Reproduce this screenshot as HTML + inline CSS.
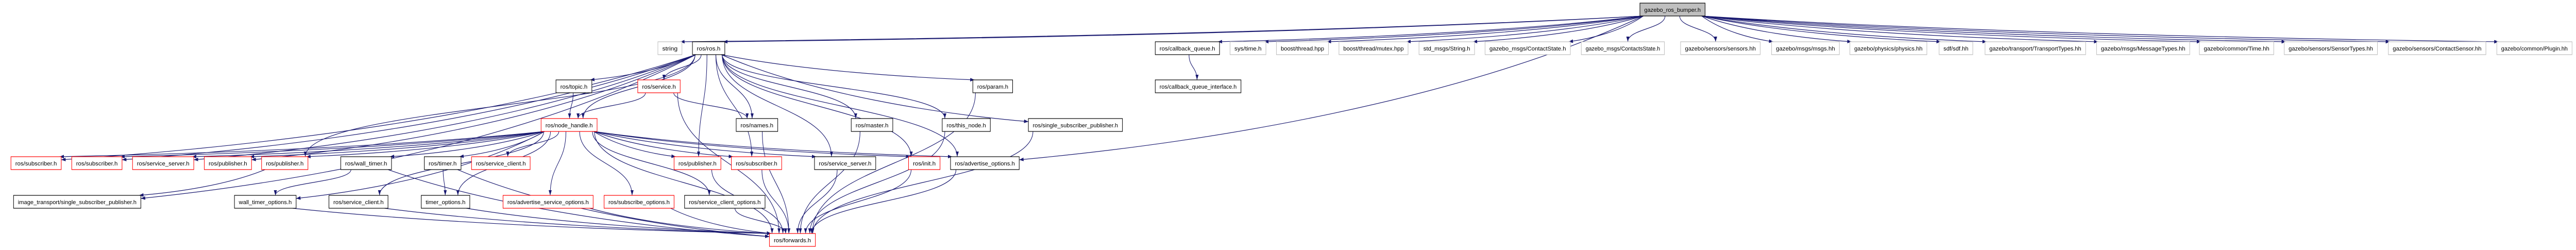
<!DOCTYPE html>
<html><head><meta charset="utf-8">
<style>
html,body{margin:0;padding:0;background:#fff;width:100%;height:485px;overflow:hidden;}
svg{display:block;width:100vw;height:485px;overflow:hidden;}
text{font-family:"Liberation Sans",sans-serif;font-size:11px;fill:#000;text-anchor:middle;}
rect{fill:#fff;stroke-width:1.2;}
.b{stroke:#000;}
.r{stroke:#ff0000;}
.g{stroke:#bfbfbf;}
.f{stroke:#000;fill:#bfbfbf;}
</style></head>
<body>
<svg id="s" viewBox="0 0 5889 485" preserveAspectRatio="none" xmlns="http://www.w3.org/2000/svg">
<defs><marker id="a" markerWidth="10" markerHeight="7" refX="10" refY="3.5" orient="auto" markerUnits="userSpaceOnUse"><path d="M0,0 L10,3.5 L0,7 z" fill="#191970"/></marker></defs>
<g id="edges"></g>
<g id="nodes">
<rect id="bumper" class="f" x="3749" y="6" width="149" height="25"/><text x="3823.5" y="23" textLength="129" lengthAdjust="spacingAndGlyphs">gazebo_ros_bumper.h</text>
<rect id="string" class="g" x="1504" y="81" width="55" height="25"/><text x="1531.5" y="98" textLength="35" lengthAdjust="spacingAndGlyphs">string</text>
<rect id="ros" class="b" x="1583" y="81" width="74" height="25"/><text x="1620" y="98" textLength="54" lengthAdjust="spacingAndGlyphs">ros/ros.h</text>
<rect id="cbq" class="b" x="2641" y="81" width="147" height="25"/><text x="2714.5" y="98" textLength="127" lengthAdjust="spacingAndGlyphs">ros/callback_queue.h</text>
<rect id="systime" class="g" x="2812" y="81" width="82" height="25"/><text x="2853" y="98" textLength="62" lengthAdjust="spacingAndGlyphs">sys/time.h</text>
<rect id="bthread" class="g" x="2918" y="81" width="119" height="25"/><text x="2977.5" y="98" textLength="99" lengthAdjust="spacingAndGlyphs">boost/thread.hpp</text>
<rect id="mutex" class="g" x="3061" y="81" width="158" height="25"/><text x="3140" y="98" textLength="138" lengthAdjust="spacingAndGlyphs">boost/thread/mutex.hpp</text>
<rect id="strmsg" class="g" x="3244" y="81" width="127" height="25"/><text x="3307.5" y="98" textLength="107" lengthAdjust="spacingAndGlyphs">std_msgs/String.h</text>
<rect id="cstate" class="g" x="3395" y="81" width="195" height="25"/><text x="3492.5" y="98" textLength="175" lengthAdjust="spacingAndGlyphs">gazebo_msgs/ContactState.h</text>
<rect id="cstates" class="g" x="3615" y="81" width="190" height="25"/><text x="3710" y="98" textLength="170" lengthAdjust="spacingAndGlyphs">gazebo_msgs/ContactsState.h</text>
<rect id="sensors" class="g" x="3842" y="81" width="182" height="25"/><text x="3933" y="98" textLength="162" lengthAdjust="spacingAndGlyphs">gazebo/sensors/sensors.hh</text>
<rect id="msgs" class="g" x="4050" y="81" width="155" height="25"/><text x="4127.5" y="98" textLength="135" lengthAdjust="spacingAndGlyphs">gazebo/msgs/msgs.hh</text>
<rect id="physics" class="g" x="4229" y="81" width="176" height="25"/><text x="4317" y="98" textLength="156" lengthAdjust="spacingAndGlyphs">gazebo/physics/physics.hh</text>
<rect id="sdf" class="g" x="4433" y="81" width="77" height="25"/><text x="4471.5" y="98" textLength="57" lengthAdjust="spacingAndGlyphs">sdf/sdf.hh</text>
<rect id="ttypes" class="g" x="4538" y="81" width="230" height="25"/><text x="4653" y="98" textLength="210" lengthAdjust="spacingAndGlyphs">gazebo/transport/TransportTypes.hh</text>
<rect id="mtypes" class="g" x="4793" y="81" width="213" height="25"/><text x="4899.5" y="98" textLength="193" lengthAdjust="spacingAndGlyphs">gazebo/msgs/MessageTypes.hh</text>
<rect id="time" class="g" x="5028" y="81" width="170" height="25"/><text x="5113" y="98" textLength="150" lengthAdjust="spacingAndGlyphs">gazebo/common/Time.hh</text>
<rect id="stypes" class="g" x="5222" y="81" width="213" height="25"/><text x="5328.5" y="98" textLength="193" lengthAdjust="spacingAndGlyphs">gazebo/sensors/SensorTypes.hh</text>
<rect id="csensor" class="g" x="5460" y="81" width="223" height="25"/><text x="5571.5" y="98" textLength="203" lengthAdjust="spacingAndGlyphs">gazebo/sensors/ContactSensor.hh</text>
<rect id="plugin" class="g" x="5708" y="81" width="172" height="25"/><text x="5794" y="98" textLength="152" lengthAdjust="spacingAndGlyphs">gazebo/common/Plugin.hh</text>

<rect id="service" class="r" x="1458" y="155" width="97" height="25"/><text x="1506.5" y="172" textLength="77" lengthAdjust="spacingAndGlyphs">ros/service.h</text>
<rect id="topic" class="b" x="1271" y="155" width="82" height="25"/><text x="1312" y="172" textLength="62" lengthAdjust="spacingAndGlyphs">ros/topic.h</text>
<rect id="param" class="b" x="2224" y="155" width="91" height="25"/><text x="2269.5" y="172" textLength="71" lengthAdjust="spacingAndGlyphs">ros/param.h</text>
<rect id="cbqi" class="b" x="2641" y="155" width="196" height="25"/><text x="2739" y="172" textLength="176" lengthAdjust="spacingAndGlyphs">ros/callback_queue_interface.h</text>

<rect id="nh" class="r" x="1237" y="230" width="128" height="25"/><text x="1301" y="247" textLength="108" lengthAdjust="spacingAndGlyphs">ros/node_handle.h</text>
<rect id="names" class="b" x="1683" y="230" width="95" height="25"/><text x="1730.5" y="247" textLength="75" lengthAdjust="spacingAndGlyphs">ros/names.h</text>
<rect id="master" class="b" x="1946" y="230" width="95" height="25"/><text x="1993.5" y="247" textLength="75" lengthAdjust="spacingAndGlyphs">ros/master.h</text>
<rect id="thisnode" class="b" x="2154" y="230" width="110" height="25"/><text x="2209" y="247" textLength="90" lengthAdjust="spacingAndGlyphs">ros/this_node.h</text>
<rect id="ssp" class="b" x="2351" y="230" width="215" height="25"/><text x="2458.5" y="247" textLength="195" lengthAdjust="spacingAndGlyphs">ros/single_subscriber_publisher.h</text>

<rect id="sub1" class="r" x="25" y="304" width="115" height="25"/><text x="82.5" y="321" textLength="95" lengthAdjust="spacingAndGlyphs">ros/subscriber.h</text>
<rect id="sub2" class="r" x="164" y="304" width="115" height="25"/><text x="221.5" y="321" textLength="95" lengthAdjust="spacingAndGlyphs">ros/subscriber.h</text>
<rect id="ss1" class="r" x="303" y="304" width="140" height="25"/><text x="373" y="321" textLength="120" lengthAdjust="spacingAndGlyphs">ros/service_server.h</text>
<rect id="pub1" class="r" x="467" y="304" width="108" height="25"/><text x="521" y="321" textLength="88" lengthAdjust="spacingAndGlyphs">ros/publisher.h</text>
<rect id="pub2" class="r" x="598" y="304" width="106" height="25"/><text x="651" y="321" textLength="86" lengthAdjust="spacingAndGlyphs">ros/publisher.h</text>
<rect id="wt" class="b" x="779" y="304" width="116" height="25"/><text x="837" y="321" textLength="96" lengthAdjust="spacingAndGlyphs">ros/wall_timer.h</text>
<rect id="timer" class="b" x="970" y="304" width="84" height="25"/><text x="1012" y="321" textLength="64" lengthAdjust="spacingAndGlyphs">ros/timer.h</text>
<rect id="sc1" class="r" x="1078" y="304" width="134" height="25"/><text x="1145" y="321" textLength="114" lengthAdjust="spacingAndGlyphs">ros/service_client.h</text>
<rect id="pub3" class="r" x="1541" y="304" width="107" height="25"/><text x="1594.5" y="321" textLength="87" lengthAdjust="spacingAndGlyphs">ros/publisher.h</text>
<rect id="sub3" class="r" x="1672" y="304" width="115" height="25"/><text x="1729.5" y="321" textLength="95" lengthAdjust="spacingAndGlyphs">ros/subscriber.h</text>
<rect id="ss2" class="b" x="1862" y="304" width="140" height="25"/><text x="1932" y="321" textLength="120" lengthAdjust="spacingAndGlyphs">ros/service_server.h</text>
<rect id="init" class="r" x="2077" y="304" width="72" height="25"/><text x="2113" y="321" textLength="52" lengthAdjust="spacingAndGlyphs">ros/init.h</text>
<rect id="adv" class="b" x="2173" y="304" width="157" height="25"/><text x="2251.5" y="321" textLength="137" lengthAdjust="spacingAndGlyphs">ros/advertise_options.h</text>

<rect id="it" class="b" x="31" y="379" width="291" height="25"/><text x="176.5" y="396" textLength="271" lengthAdjust="spacingAndGlyphs">image_transport/single_subscriber_publisher.h</text>
<rect id="wto" class="b" x="536" y="379" width="141" height="25"/><text x="606.5" y="396" textLength="121" lengthAdjust="spacingAndGlyphs">wall_timer_options.h</text>
<rect id="sc2" class="b" x="752" y="379" width="135" height="25"/><text x="819.5" y="396" textLength="115" lengthAdjust="spacingAndGlyphs">ros/service_client.h</text>
<rect id="to" class="b" x="963" y="379" width="111" height="25"/><text x="1018.5" y="396" textLength="91" lengthAdjust="spacingAndGlyphs">timer_options.h</text>
<rect id="aso" class="r" x="1150" y="379" width="206" height="25"/><text x="1253" y="396" textLength="186" lengthAdjust="spacingAndGlyphs">ros/advertise_service_options.h</text>
<rect id="so" class="r" x="1381" y="379" width="160" height="25"/><text x="1461" y="396" textLength="140" lengthAdjust="spacingAndGlyphs">ros/subscribe_options.h</text>
<rect id="sco" class="b" x="1565" y="379" width="184" height="25"/><text x="1657" y="396" textLength="164" lengthAdjust="spacingAndGlyphs">ros/service_client_options.h</text>

<rect id="fwd" class="r" x="1759" y="453" width="105" height="25"/><text x="1811.5" y="470" textLength="85" lengthAdjust="spacingAndGlyphs">ros/forwards.h</text>
</g>
</svg>
<script>
(function(){
var NS="http://www.w3.org/2000/svg";
function G(id){var r=document.getElementById(id);var x=+r.getAttribute("x"),y=+r.getAttribute("y"),w=+r.getAttribute("width"),h=+r.getAttribute("height");return{x1:x,x2:x+w,y1:y,y2:y+h,cx:x+w/2,cy:y+h/2,w:w};}
function cl(v,a,b){return Math.max(a,Math.min(b,v));}
var eg=document.getElementById("edges");
function E(s,t){
 var S=G(s),T=G(t);var dx=T.cx-S.cx,dy=T.y1-S.y2;var d;
 if(Math.abs(dx)>5*Math.max(dy,20)){
  var dir=dx<0?-1:1;
  var sx=dir<0?S.x1+8:S.x2-8, sy=S.y2;
  var ex=dir<0?T.x2-4:T.x1+4, ey=T.y1;
  if(T.y1-S.y2>60){ex=dir<0?T.x2:T.x1;ey=T.y1+6;}
  var c1x=sx+(ex-sx)*0.3,c1y=sy+(ey-sy)*0.6,c2x=sx+(ex-sx)*0.7,c2y=ey-(ey-sy)*0.12;
  d="M"+sx+","+sy+" C"+c1x+","+c1y+" "+c2x+","+c2y+" "+ex+","+ey;
 }else{
  var sx=S.cx+cl(dx*0.15,-(S.w/2-6),S.w/2-6), sy=S.y2;
  var ex=T.cx-cl(dx*0.1,-(T.w/2-6),T.w/2-6), ey=T.y1;
  d="M"+sx+","+sy+" C"+sx+","+(sy+dy*0.5)+" "+ex+","+(ey-dy*0.5)+" "+ex+","+ey;
 }
 var p=document.createElementNS(NS,"path");p.setAttribute("d",d);p.setAttribute("fill","none");p.setAttribute("stroke","#191970");p.setAttribute("stroke-width","1.2");p.setAttribute("marker-end","url(#a)");eg.appendChild(p);
}
var L=[
["bumper",["string","ros","cbq","systime","bthread","mutex","strmsg","cstate","cstates","sensors","msgs","physics","sdf","ttypes","mtypes","time","stypes","csensor","plugin","adv"]],
["ros",["service","topic","param","nh","names","master","pub3","sub3","ss2","init","thisnode","ssp","sub1","sub2","ss1","pub1","pub2","it","adv"]],
["service",["nh","names","fwd"]],
["topic",["nh"]],
["cbq",["cbqi"]],
["nh",["fwd","sub1","sub2","ss1","pub1","pub2","wt","timer","sc1","pub3","sub3","ss2","init","adv","sc2","to","aso","so","sco","wto"]],
["wt",["wto","fwd"]],["timer",["to","fwd"]],["pub2",["it"]],
["wto",["fwd"]],["sc2",["fwd"]],["to",["fwd"]],["aso",["fwd"]],["so",["fwd"]],["sco",["fwd"]],
["pub3",["fwd"]],["sub3",["fwd"]],["ss2",["fwd"]],["init",["fwd"]],["adv",["fwd"]],
["names",["fwd"]],["master",["fwd"]],["thisnode",["fwd"]],["param",["fwd"]],["ssp",["fwd"]]
];
L.forEach(function(e){e[1].forEach(function(t){E(e[0],t);});});
})();
</script>
</body></html>
